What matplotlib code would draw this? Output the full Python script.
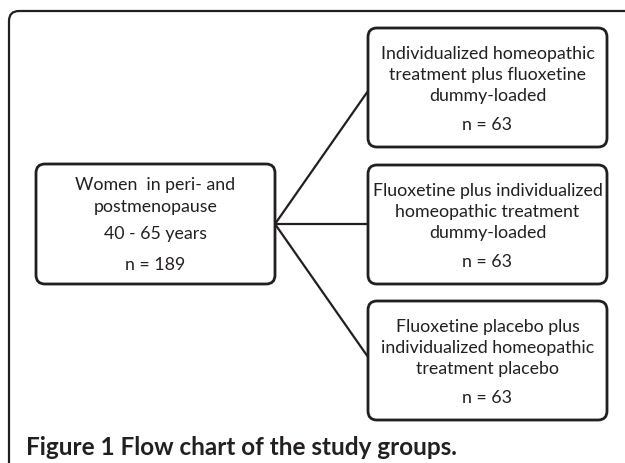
import matplotlib.pyplot as plt
from matplotlib.patches import FancyBboxPatch

plt.rcParams["font.family"] = ["Lato", "DejaVu Sans"]

source_lines = ["Women  in peri- and", "postmenopause"]
source_age = "40 - 65 years"
source_n = 189

group_labels = [
    ["Individualized homeopathic", "treatment plus fluoxetine", "dummy-loaded"],
    ["Fluoxetine plus individualized", "homeopathic treatment", "dummy-loaded"],
    ["Fluoxetine placebo plus", "individualized homeopathic", "treatment placebo"],
]
group_n = [63, 63, 63]

caption_bold = "Figure 1"
caption_text = "Flow chart of the study groups."

W, H = 625, 464
fig = plt.figure(figsize=(W / 100, H / 100), dpi=100)
ax = fig.add_axes([0, 0, 1, 1])
ax.set_xlim(0, W)
ax.set_ylim(H, 0)
ax.axis("off")

ink = "#231f20"
fs = 12.8


def rbox(x0, y0, x1, y1, r=9, lw=2.0, fc="white"):
    p = FancyBboxPatch((x0 + r, y0 + r), x1 - x0 - 2 * r, y1 - y0 - 2 * r,
                       boxstyle="round,pad=%d" % r, fc=fc, ec=ink, lw=lw,
                       zorder=3)
    ax.add_patch(p)


# outer frame (right and bottom run off the image)
rbox(9, 12, W + 40, H + 40, r=10, lw=1.6, fc="none")

# left box
lx0, lx1, ly0, ly1 = 36, 275, 165, 285
rbox(lx0, ly0, lx1, ly1)
cx = (lx0 + lx1) / 2
for i, s in enumerate(source_lines):
    ax.text(cx, 185 + 22 * i, s, ha="center", va="center", fontsize=fs,
            color=ink, zorder=4)
ax.text(cx, 234, source_age, ha="center", va="center", fontsize=fs,
        color=ink, zorder=4)
ax.text(cx, 265, "n = %d" % source_n, ha="center", va="center",
        fontsize=fs, color=ink, zorder=4)

# right boxes
rx0, rx1 = 368, 607
tops = [29, 166, 302]
bh = 119
ends = [92, 225, 358]
for lab, n, top, ye in zip(group_labels, group_n, tops, ends):
    ax.plot([lx1, rx0], [225, ye], color=ink, lw=1.6, zorder=2)
    rbox(rx0, top, rx1, top + bh)
    gx = (rx0 + rx1) / 2
    for i, s in enumerate(lab):
        ax.text(gx, top + 25 + 21 * i, s, ha="center", va="center",
                fontsize=fs, color=ink, zorder=4)
    ax.text(gx, top + 96, "n = %d" % n, ha="center", va="center",
            fontsize=fs, color=ink, zorder=4)

ax.text(26, 448, caption_bold + " " + caption_text, ha="left", va="center",
        fontsize=17.5, fontweight="bold", color=ink, zorder=4)

fig.savefig("out.png", dpi=100)
